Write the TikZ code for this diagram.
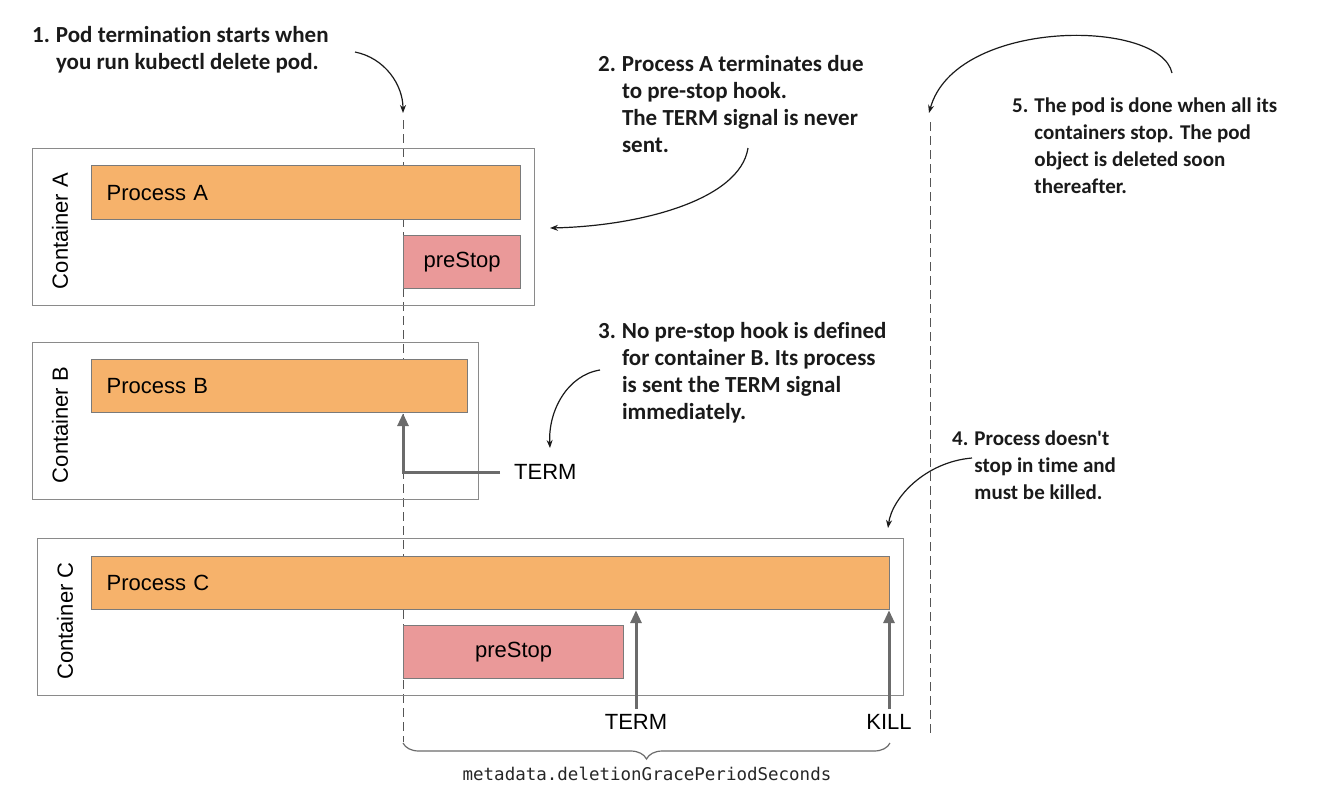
\documentclass[tikz,border=0pt]{standalone}
\usepackage{fontspec}
\setmainfont{Liberation Sans}
\newfontfamily\notefont[Ligatures=NoCommon]{Carlito}
\newfontfamily\codefont{DejaVu Sans Mono}
\usetikzlibrary{arrows.meta,decorations.pathreplacing,calc}
\definecolor{orange1}{HTML}{F6B26B}
\definecolor{pink1}{HTML}{EA9999}
\definecolor{boxgray}{HTML}{8A8A8A}
\definecolor{procborder}{HTML}{7A7A7A}
\definecolor{sigcol}{HTML}{6B6B6B}
\definecolor{dashcol}{HTML}{555555}
\definecolor{notecol}{HTML}{1A1A1A}
\newcommand{\labfont}{\fontsize{22}{26}\selectfont}
\newcommand{\notesize}{\notefont\bfseries\fontsize{21}{27}\selectfont}
\newcommand{\notebig}{\notefont\bfseries\fontsize{23}{27}\selectfont}
\begin{document}
\begin{tikzpicture}[x=1pt,y=-1pt,
  cont/.style={draw=boxgray, line width=1.2pt, anchor=north west, inner sep=0pt},
  proc/.style={draw=procborder, fill=orange1, line width=1.2pt, anchor=north west, inner xsep=15pt, inner ysep=0pt, align=left, font=\labfont},
  hook/.style={draw=procborder, fill=pink1, line width=1.2pt, anchor=north west, inner sep=0pt, font=\labfont},
  clabel/.style={rotate=90, font=\labfont, inner sep=0pt},
  siglabel/.style={font=\labfont, inner sep=2pt},
  sig/.style={draw=sigcol, line width=3pt, -{Triangle[length=13pt,width=11pt]}},
  note/.style={anchor=base west, inner sep=0pt, text=notecol, font=\notesize},
  notebig/.style={note, font=\notebig},
  notearrow/.style={draw=notecol, line width=1.2pt, -{Stealth[length=8pt,width=6pt]}},
  timeline/.style={draw=dashcol, line width=1pt, dash pattern=on 9pt off 5pt},
]
\useasboundingbox (0,0) rectangle (1330,806);

% timelines
\coordinate (d1top) at (403,120);
\coordinate (d1bot) at (403,742);
\coordinate (d2top) at (930,122);
\coordinate (d2bot) at (930,736);
\draw[timeline] (d1top) -- (d1bot);
\draw[timeline] (d2top) -- (d2bot);

% containers
\node[cont, minimum width=502pt, minimum height=157pt] (cA) at (32,148) {};
\node[cont, minimum width=446pt, minimum height=157pt] (cB) at (32,342) {};
\node[cont, minimum width=866pt, minimum height=157pt] (cC) at (37,538) {};
\node[clabel] (lA) at (60,231) {Container A};
\node[clabel] (lB) at (60,425) {Container B};
\node[clabel] (lC) at (65,621) {Container C};

% processes
\node[proc, text width=399pt, minimum height=54pt] (pA) at (91,165) {Process A};
\node[proc, text width=346pt, minimum height=53pt] (pB) at (91,359) {Process B};
\node[proc, text width=768pt, minimum height=53pt] (pC) at (91,556) {Process C};

% preStop hooks
\node[hook, minimum width=117pt, minimum height=53pt] (hA) at (403,235) {preStop};
\node[hook, minimum width=220pt, minimum height=53pt] (hC) at (403,625) {preStop};

% signals
\node[siglabel, anchor=west] (tB) at (512,472) {TERM};
\draw[sig] ([xshift=-12pt]tB.west) -| (pB.south -| d1top);
\node[siglabel] (tC) at (636,722) {TERM};
\draw[sig] ([yshift=3pt]tC.north) -- (tC.north |- pC.south);
\node[siglabel] (kC) at (889,722) {KILL};
\draw[sig] ([yshift=3pt]kC.north) -- (kC.north |- pC.south);

% brace
\coordinate (bl) at (403,743);
\coordinate (br) at (890,743);
\draw[draw=sigcol, line width=1.2pt, decorate, decoration={brace, mirror, amplitude=16pt}] (bl) -- (br);
\node[font=\codefont\fontsize{17.5}{20}\selectfont, text=black!85] (grace) at (647,774) {metadata.deletionGracePeriodSeconds};

% notes
\node[notebig] (n1) at (32,42) {\begin{tabular}[t]{@{}l@{\hspace{6pt}}l@{}}1. & Pod termination starts when\\ & you run kubectl delete pod.\end{tabular}};
\node[notebig] (n2) at (598,71) {\begin{tabular}[t]{@{}l@{\hspace{6pt}}l@{}}2. & Process A terminates due\\ & to pre-stop hook.\\ & The TERM signal is never\\ & sent.\end{tabular}};
\node[notebig] (n3) at (598,338) {\begin{tabular}[t]{@{}l@{\hspace{6pt}}l@{}}3. & No pre-stop hook is defined\\ & for container B. Its process\\ & is sent the TERM signal\\ & immediately.\end{tabular}};
\node[note] (n4) at (952,445) {\begin{tabular}[t]{@{}l@{\hspace{6pt}}l@{}}4. & Process doesn't\\ & stop in time and\\ & must be killed.\end{tabular}};
\node[note] (n5) at (1012,112) {\begin{tabular}[t]{@{}l@{\hspace{6pt}}l@{}}5. & The pod is done when all its\\ & containers stop. The pod\\ & object is deleted soon\\ & thereafter.\end{tabular}};

% note arrows
\coordinate (a1s) at (355,52);
\coordinate (a1e) at (403,113);
\draw[notearrow] (a1s) .. controls (385,58) and (403,85) .. (a1e);
\coordinate (a2s) at (748,148);
\coordinate (a2e) at (550,228);
\draw[notearrow] (a2s) .. controls (740,200) and (640,226) .. (a2e);
\coordinate (a3s) at (600,370);
\coordinate (a3e) at (550,448);
\draw[notearrow] (a3s) .. controls (568,375) and (548,410) .. (a3e);
\coordinate (a4s) at (972,458);
\coordinate (a4e) at (888,528);
\draw[notearrow] (a4s) .. controls (925,462) and (892,498) .. (a4e);
\coordinate (a5s) at (1172,73);
\coordinate (a5e) at (929,113);
\draw[notearrow] (a5s) .. controls (1160,18) and (955,18) .. (a5e);
\end{tikzpicture}
\end{document}
